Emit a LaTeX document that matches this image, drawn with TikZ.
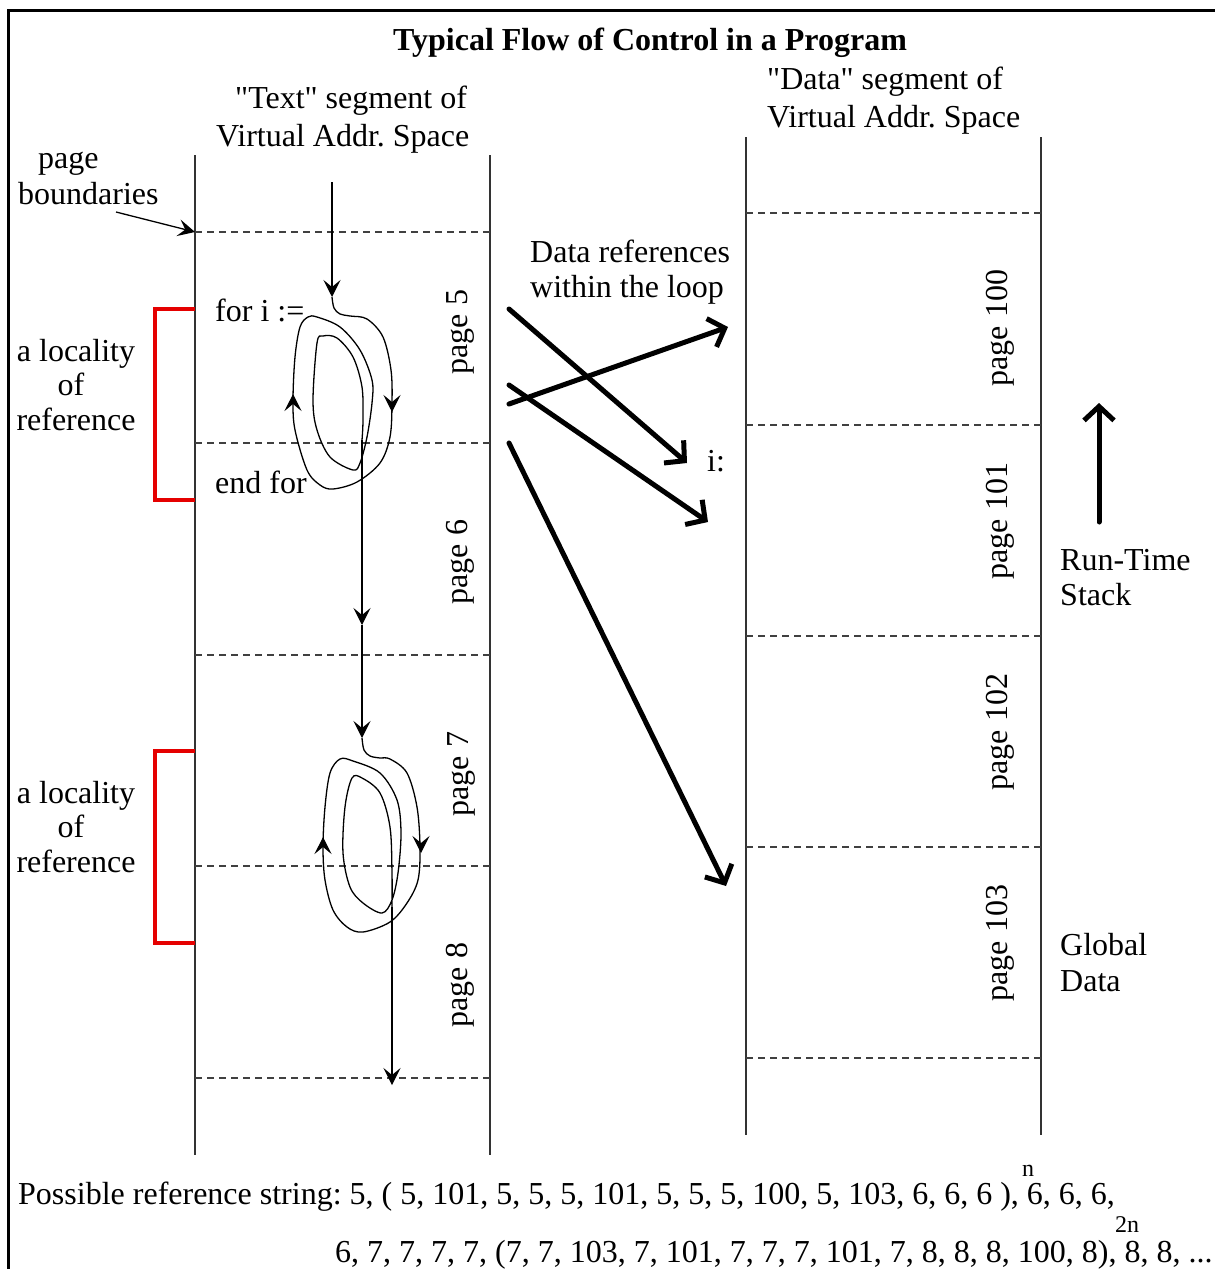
\documentclass[tikz,border=0pt]{standalone}
\usepackage{fontspec}
\setmainfont{Liberation Serif}
\usetikzlibrary{arrows.meta}
\font\plainquotefont="Liberation Serif" at 32pt
\begin{document}
\frenchspacing
\begin{tikzpicture}[x=1pt,y=-1pt,
  txt/.style={inner sep=0pt, font=\fontsize{32}{36}\selectfont},
  qtxt/.style={inner sep=0pt, font=\plainquotefont},
  sup/.style={inner sep=0pt, font=\fontsize{24}{28}\selectfont},
  col/.style={draw=black!80, line width=1.5pt},
  bound/.style={draw=black!75, line width=1.2pt, dash pattern=on 7pt off 5pt},
  flow/.style={draw=black, line width=1.3pt},
  tip/.style={-{Stealth[length=17pt,width=17pt,inset=7pt]}},
  thick arrow/.style={draw=black, line width=5pt, line cap=round, -{Straight Barb[length=14pt,width=30pt]}},
  bracket/.style={draw=red!90!black, line width=4pt}
]
\useasboundingbox (0,0) rectangle (1215,1269);
% frame
\draw[line width=3pt] (8,1280) -- (8,10.5) -- (1225,10.5);
% title
\node[txt, font=\fontsize{32}{36}\selectfont\bfseries, anchor=base] (title) at (650,50) {Typical Flow of Control in a Program};
% headers
\node[qtxt, anchor=base west] (th1) at (235,108) {"Text" segment of};
\node[txt, anchor=base west] (th2) at (216,146) {Virtual Addr. Space};
\node[qtxt, anchor=base west] (dh1) at (767,89) {"Data" segment of};
\node[txt, anchor=base west] (dh2) at (767,127) {Virtual Addr. Space};
% text segment columns
\draw[col] (195,155) -- (195,1155);
\draw[col] (490,155) -- (490,1155);
\foreach \yy/\nm in {232/tb1,443/tb2,655/tb3,866/tb4,1078/tb5}{
  \coordinate (\nm) at (195,\yy);
  \draw[bound] (\nm) -- (490,\yy);
}
% data segment columns
\draw[col] (746,137) -- (746,1135);
\draw[col] (1041,137) -- (1041,1135);
\foreach \yy in {213,425,636,847,1058}{
  \draw[bound] (746,\yy) -- (1041,\yy);
}
% page boundaries label
\node[txt, anchor=base west] (pb1) at (38,168) {page};
\node[txt, anchor=base west] (pb2) at (18,204) {boundaries};
\coordinate (pbs) at (116,212);
\draw[flow, tip] (pbs) -- (tb1);
% localities
\draw[bracket] (195,309) -- (155,309) -- (155,500) -- (195,500);
\draw[bracket] (195,751) -- (155,751) -- (155,943) -- (195,943);
\node[txt, anchor=base] (la1) at (76,361) {a locality};
\node[txt, anchor=base] (la2) at (71,395) {of};
\node[txt, anchor=base] (la3) at (76,430) {reference};
\node[txt, anchor=base] (lb1) at (76,803) {a locality};
\node[txt, anchor=base] (lb2) at (71,837) {of};
\node[txt, anchor=base] (lb3) at (76,872) {reference};
% code labels
\node[txt, anchor=base west] (fori) at (215,321) {for i :=};
\node[txt, anchor=base west] (endfor) at (215,493) {end for};
% page labels
\node[txt, rotate=90] (p5) at (460,332) {page 5};
\node[txt, rotate=90] (p6) at (460,562) {page 6};
\node[txt, rotate=90] (p7) at (461,774) {page 7};
\node[txt, rotate=90] (p8) at (460,985) {page 8};
\node[txt, rotate=90] (p100) at (1000,328) {page 100};
\node[txt, rotate=90] (p101) at (1000,521) {page 101};
\node[txt, rotate=90] (p102) at (1000,732) {page 102};
\node[txt, rotate=90] (p103) at (1000,943) {page 103};
% flow of control, first loop
\coordinate (f0) at (332,182);
\coordinate (f1) at (332,297);
\draw[flow, tip] (f0) -- (f1);
\draw[flow] plot[smooth, tension=0.55] coordinates {(332,297) (334,308) (340,314) (350,316) (367,319) (383,337) (391,370) (392,403) (390,437) (380,463) (357,482) (333,489) (320,485) (307,470) (295,430) (293,400) (295,357) (300,327) (308,317) (317,317) (340,327) (360,350) (372,380) (372,403) (367,437) (360,463) (353,470) (330,457) (317,430) (313,400) (317,343) (323,336) (337,338) (353,357) (362,387) (363,420) (362,440)};
\draw[flow, tip] (392,408) -- (392,412);
\draw[flow, tip] (293,398) -- (293,394);
\coordinate (f2) at (362,440);
\coordinate (f3) at (362,625);
\coordinate (f4) at (362,738);
\draw[flow, tip] (f2) -- (f3);
\draw[flow, tip] (f3) -- (f4);
% second loop
\draw[flow] plot[smooth, tension=0.55] coordinates {(362,738) (364,750) (370,756) (380,758) (390,759) (407,773) (417,807) (420,847) (418,880) (407,903) (390,922) (363,932) (347,927) (333,910) (325,880) (323,847) (325,807) (330,773) (340,759) (353,761) (380,773) (397,800) (401,833) (398,873) (392,900) (382,913) (363,903) (350,887) (343,853) (345,807) (352,778) (362,778) (380,793) (390,827) (392,873) (392,907)};
\draw[flow, tip] (421,849) -- (421,853);
\draw[flow, tip] (323,841) -- (323,837);
\coordinate (f5) at (392,907);
\coordinate (f6) at (392,1085);
\draw[flow, tip] (f5) -- (f6);
% data references
\node[txt, anchor=base west] (dr1) at (530,262) {Data references};
\node[txt, anchor=base west] (dr2) at (530,297) {within the loop};
\node[txt, anchor=base west] (ivar) at (707,471) {i:};
\coordinate (a1s) at (509,309); \coordinate (a1e) at (687,463);
\coordinate (a2s) at (509,385); \coordinate (a2e) at (708,522);
\coordinate (a3s) at (509,404); \coordinate (a3e) at (728,327);
\coordinate (a4s) at (509,443); \coordinate (a4e) at (726,886);
\draw[thick arrow] (a1s) -- (a1e);
\draw[thick arrow] (a2s) -- (a2e);
\draw[thick arrow] (a3s) -- (a3e);
\draw[thick arrow] (a4s) -- (a4e);
% right labels
\coordinate (rs0) at (1099,522); \coordinate (rs1) at (1099,403);
\draw[thick arrow] (rs0) -- (rs1);
\node[txt, anchor=base west] (rt1) at (1060,570) {Run-Time};
\node[txt, anchor=base west] (rt2) at (1060,605) {Stack};
\node[txt, anchor=base west] (gd1) at (1060,955) {Global};
\node[txt, anchor=base west] (gd2) at (1060,991) {Data};
% reference string
\node[txt, anchor=base west] (rs1t) at (18,1204) {Possible reference string: 5, ( 5, 101, 5, 5, 5, 101, 5, 5, 5, 100, 5, 103, 6, 6, 6 ), 6, 6, 6,};
\node[sup, anchor=base] (supn) at (1028,1176) {n};
\node[txt, anchor=base west] (rs2t) at (335,1262) {6, 7, 7, 7, 7, (7, 7, 103, 7, 101, 7, 7, 7, 101, 7, 8, 8, 8, 100, 8), 8, 8, ...};
\node[sup, anchor=base] (sup2n) at (1127,1232) {2n};
\end{tikzpicture}
\end{document}
